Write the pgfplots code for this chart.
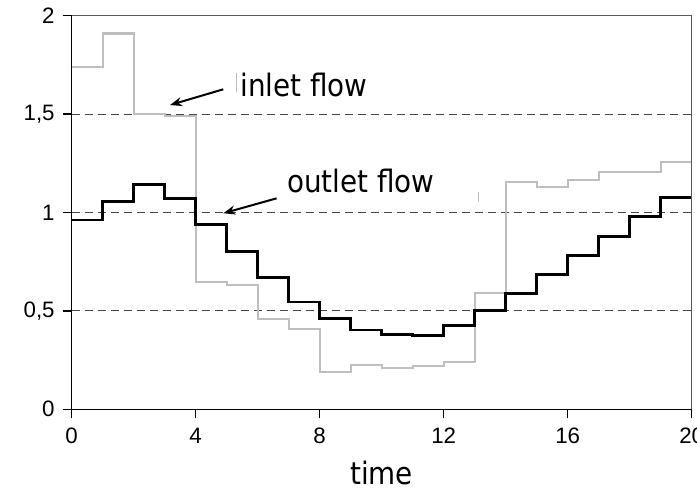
\documentclass[border=0pt]{standalone}
\usepackage{pgfplots}
\pgfplotsset{compat=1.18}
\usepackage{fontspec}
\setmainfont{Liberation Sans}
\newfontfamily\labelfont{DejaVu Sans Condensed}
\usetikzlibrary{arrows.meta}

\definecolor{inletgray}{RGB}{190,190,190}
\definecolor{gridgray}{RGB}{70,70,70}

\begin{document}
\begin{tikzpicture}
  \begin{axis}[
      name=ax,
      scale only axis,
      width=310bp, height=196.8bp,
      xmin=0, xmax=20, ymin=0, ymax=2,
      xtick={0,4,8,12,16,20},
      ytick={0,0.5,1,1.5,2},
      yticklabels={0,{0,5},1,{1,5},2},
      extra y ticks={0.5,1,1.5},
      extra y tick labels={},
      extra y tick style={
        grid=major,
        major tick length=0pt,
        major grid style={gridgray, line width=0.5bp, dash pattern=on 4bp off 2.5bp},
      },
      axis x line*=bottom,
      axis y line*=left,
      axis line style={black, line width=0.6bp, -},
      tick align=outside,
      major tick length=4.5bp,
      tick style={black, line width=0.6bp},
      /pgf/number format/assume math mode=true,
      xticklabel style={font=\fontsize{11.2}{13}\selectfont, yshift=-1.5bp},
      yticklabel style={font=\fontsize{11.2}{13}\selectfont, xshift=-0.5bp},
      xlabel={time},
      xlabel style={font=\labelfont\fontsize{15.5}{18}\selectfont,
        at={(axis description cs:0.5,0)}, anchor=base, yshift=-37.8bp},
      clip=false,
    ]

    % white text box that hides the gridline behind "outlet flow"
    \fill[white] (axis cs:6.72,1.048) rectangle (axis cs:13.07,1.267);
    \draw[inletgray, line width=0.5bp] (axis cs:5.32,1.612) -- (axis cs:5.32,1.709);
    \draw[inletgray, line width=0.5bp] (axis cs:13.12,1.055) -- (axis cs:13.12,1.106);

    % inlet flow
    \addplot[const plot, inletgray, line width=1.1bp] coordinates {
      (0,1.74) (1,1.91) (2,1.50) (3,1.49) (4,0.648) (5,0.632) (6,0.459)
      (7,0.41) (8,0.188) (9,0.224) (10,0.211) (11,0.218) (12,0.24)
      (13,0.589) (14,1.157) (15,1.128) (16,1.165) (17,1.204) (18,1.204)
      (19,1.255) (20,1.255)
    };

    % outlet flow
    \addplot[const plot, black, line width=1.3bp] coordinates {
      (0,0.962) (1,1.055) (2,1.143) (3,1.072) (4,0.94) (5,0.801) (6,0.669)
      (7,0.545) (8,0.46) (9,0.403) (10,0.381) (11,0.376) (12,0.425)
      (13,0.503) (14,0.587) (15,0.684) (16,0.782) (17,0.877) (18,0.979)
      (19,1.075) (20,1.075)
    };

    \draw[gray!70!black, line width=0.5bp] (rel axis cs:0,1) -- (rel axis cs:1,1) -- (rel axis cs:1,0);

    \node[anchor=base west, inner sep=0pt, font=\labelfont\fontsize{15.5}{18}\selectfont]
      at (axis cs:5.43,1.588) {inlet flow};
    \node[anchor=base west, inner sep=0pt, font=\labelfont\fontsize{15.5}{18}\selectfont]
      at (axis cs:6.945,1.104) {outlet flow};

    \draw[-{Stealth[length=6bp,width=4.5bp]}, line width=1bp]
      (axis cs:4.89,1.626) -- (axis cs:3.17,1.546);
    \draw[-{Stealth[length=6bp,width=4.5bp]}, line width=1bp]
      (axis cs:6.61,1.072) -- (axis cs:4.89,0.996);
  \end{axis}
  \pgfresetboundingbox
  \path ([shift={(-35.85bp,-44.35bp)}]ax.south west) rectangle ([shift={(2.65bp,7.85bp)}]ax.north east);
\end{tikzpicture}
\end{document}
